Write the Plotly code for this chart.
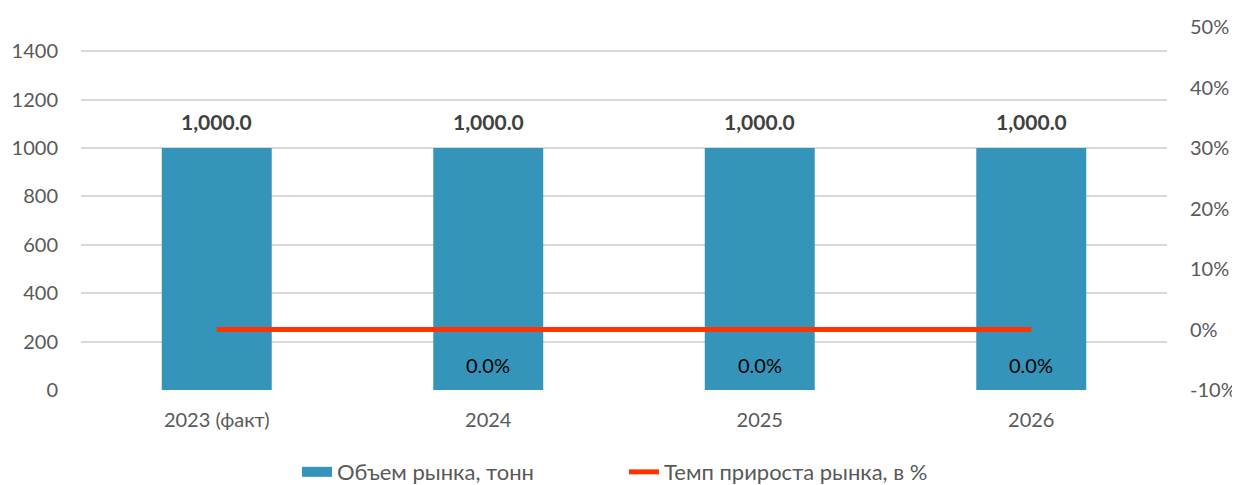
import plotly.graph_objects as go

categories = ["2023 (факт)", "2024", "2025", "2026"]
volume = [1000.0, 1000.0, 1000.0, 1000.0]
growth = [0.0, 0.0, 0.0, 0.0]
growth_labels = ["", "0.0%", "0.0%", "0.0%"]
y2_ticks = [-0.1, 0.0, 0.1, 0.2, 0.3, 0.4, 0.5]
y2_ticktext = ["-10%", "0%", "10%", "20%", "30%", "40%", "50%"]

FONT = "Lato, 'Open Sans', sans-serif"
GRAY = "#595959"
BAR = "#3494BA"
LINE = "#FF3300"

fig = go.Figure()
fig.add_trace(go.Bar(
    x=categories, y=volume, name="Объем рынка, тонн",
    marker=dict(color=BAR, line=dict(width=0)),
    width=0.405, showlegend=False,
))
# legend-only entry so the bar symbol is drawn as a wide block like the reference
fig.add_trace(go.Scatter(
    x=[None], y=[None], name="Объем рынка, тонн", mode="lines",
    line=dict(color=BAR, width=13), hoverinfo="skip",
))
fig.add_trace(go.Scatter(
    x=categories, y=growth, name="Темп прироста рынка, в %",
    mode="lines", yaxis="y2",
    line=dict(color=LINE, width=5),
))

# bar value labels (category index positions)
for i, v in enumerate(volume):
    fig.add_annotation(x=i, y=v, xref="x", yref="y", text=f"<b>{v:,.1f}</b>",
                       showarrow=False, yanchor="bottom", yshift=12,
                       font=dict(family=FONT, size=21, color="#404040"))

for i, (g, t) in enumerate(zip(growth, growth_labels)):
    if t:
        fig.add_annotation(x=i, y=g, xref="x", yref="y2", text=t, showarrow=False,
                           yshift=-35, font=dict(family=FONT, size=20, color="#000000"))

# page body has an 8px margin, so the figure is offset by (8, 8)
fig.update_layout(
    width=1232, height=477,
    margin=dict(l=73, r=73, t=19, b=95, autoexpand=False),
    paper_bgcolor="white", plot_bgcolor="white",
    font=dict(family=FONT, size=20, color=GRAY),
    showlegend=True,
    legend=dict(orientation="h", x=0.5, xanchor="center", y=-0.226, yanchor="middle",
                font=dict(family=FONT, size=22, color=GRAY),
                entrywidth=282, entrywidthmode="pixels", tracegroupgap=0),
    xaxis=dict(type="category", categoryorder="array", categoryarray=categories,
               range=[-0.5, len(categories) - 0.5], automargin=False,
               showgrid=False, showline=False, ticks="",
               tickfont=dict(size=20, color=GRAY), ticklabelstandoff=16),
    yaxis=dict(range=[0, 1500], tickvals=[0, 200, 400, 600, 800, 1000, 1200, 1400],
               showgrid=True, gridcolor="#D9D9D9", gridwidth=2, zeroline=False,
               automargin=False,
               tickfont=dict(size=20, color=GRAY), ticklabelstandoff=22),
    yaxis2=dict(range=[-0.1, 0.5], tickvals=y2_ticks, ticktext=y2_ticktext,
                overlaying="y", side="right", automargin=False,
                showgrid=False, zeroline=False, tickfont=dict(size=20, color=GRAY),
                ticklabelstandoff=22),
)

fig.write_html("out.html")
